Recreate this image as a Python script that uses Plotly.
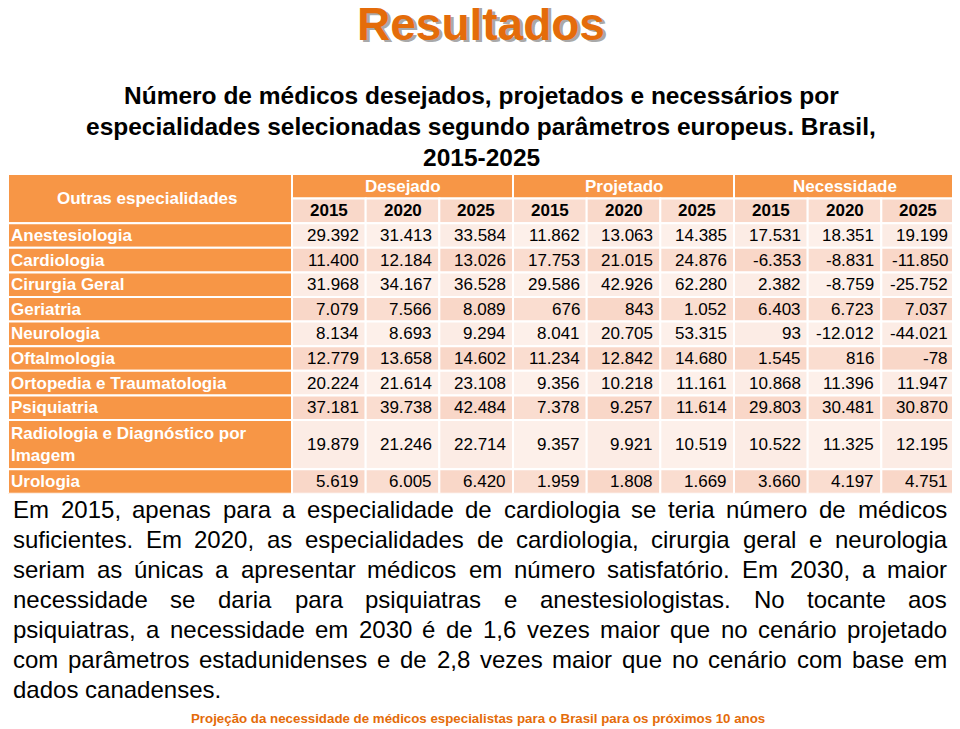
import plotly.graph_objects as go

FONT = "Liberation Sans, Arial, sans-serif"
W_PX, H_PX = 960, 729
OFF = 8  # the page body adds an 8px margin around the figure

# ---------------- data ----------------
especialidades = [
    "Anestesiologia", "Cardiologia", "Cirurgia Geral", "Geriatria", "Neurologia",
    "Oftalmologia", "Ortopedia e Traumatologia", "Psiquiatria",
    "Radiologia e Diagnóstico por<br>Imagem", "Urologia",
]
grupos = ["Desejado", "Projetado", "Necessidade"]
anos = ["2015", "2020", "2025"]
cabecalho = "Outras especialidades"

desejado = [
    [29392, 31413, 33584], [11400, 12184, 13026], [31968, 34167, 36528],
    [7079, 7566, 8089], [8134, 8693, 9294], [12779, 13658, 14602],
    [20224, 21614, 23108], [37181, 39738, 42484], [19879, 21246, 22714],
    [5619, 6005, 6420],
]
projetado = [
    [11862, 13063, 14385], [17753, 21015, 24876], [29586, 42926, 62280],
    [676, 843, 1052], [8041, 20705, 53315], [11234, 12842, 14680],
    [9356, 10218, 11161], [7378, 9257, 11614], [9357, 9921, 10519],
    [1959, 1808, 1669],
]
necessidade = [
    [17531, 18351, 19199], [-6353, -8831, -11850], [2382, -8759, -25752],
    [6403, 6723, 7037], [93, -12012, -44021], [1545, 816, -78],
    [10868, 11396, 11947], [29803, 30481, 30870], [10522, 11325, 12195],
    [3660, 4197, 4751],
]

titulo = "Resultados"
subtitulo = [
    "Número de médicos desejados, projetados e necessários por",
    "especialidades selecionadas segundo parâmetros europeus. Brasil,",
    "2015-2025",
]
texto = [
    "Em 2015, apenas para a especialidade de cardiologia se teria número de médicos",
    "suficientes. Em 2020, as especialidades de cardiologia, cirurgia geral e neurologia",
    "seriam as únicas a apresentar médicos em número satisfatório. Em 2030, a maior",
    "necessidade se daria para psiquiatras e anestesiologistas. No tocante aos",
    "psiquiatras, a necessidade em 2030 é de 1,6 vezes maior que no cenário projetado",
    "com parâmetros estadunidenses e de 2,8 vezes maior que no cenário com base em",
    "dados canadenses.",
]
rodape = "Projeção da necessidade de médicos especialistas para o Brasil para os próximos 10 anos"

# ---------------- styles ----------------
ORANGE = "#F79646"
TITLE_ORANGE = "#E46C0A"
HEAD2 = ["#F9D8C9", "#FADDD0"]
LIGHT = ["#FCECE5", "#FDF0EA"]
DARK = ["#F9D7C8", "#FADDD0"]


def fmt(v):
    return f"{v:,}".replace(",", ".")


def px_x(px):
    return (px - OFF) / W_PX


def px_y(py):
    return 1 - (py - OFF) / H_PX


# Arial / Liberation Sans regular advance widths (1/1000 em)
ARIAL_W = {" ": 278, ",": 278, ".": 278, "-": 333, "E": 667, "N": 722}
for ch in "0123456789":
    ARIAL_W[ch] = 556
for ch, w in zip("abcdefghijklmnopqrstuvwxyz",
                 [556, 556, 500, 556, 556, 278, 556, 556, 222, 222, 500, 222, 833,
                  556, 556, 556, 556, 333, 500, 278, 556, 500, 722, 500, 500, 500]):
    ARIAL_W[ch] = w
for ch in "áâãéêóôõú":
    ARIAL_W[ch] = 556
ARIAL_W["í"] = 278
ARIAL_W["ç"] = 500


def text_w(s, fs):
    return sum(ARIAL_W.get(c, 556) for c in s) * fs / 1000.0


# ---------------- table geometry (in axis units) ----------------
n_cols = len(grupos) * len(anos)
tbl_left, tbl_split, tbl_right = OFF, 292, 955
col_px = (tbl_right - tbl_split) / n_cols
label_w = (tbl_split - tbl_left) / col_px

row_h = [2 if "<br>" in e else 1 for e in especialidades]
row_y0 = []
acc = 2
for h in row_h:
    row_y0.append(acc)
    acc += h
total_rows = acc
tbl_top = 174
unit_px = 24.6
tbl_bottom = tbl_top + total_rows * unit_px

fig = go.Figure()
# invisible trace to set up the axes
fig.add_trace(go.Scatter(x=[-label_w, n_cols], y=[0, total_rows], mode="markers",
                         marker=dict(opacity=0), hoverinfo="skip", showlegend=False))

shapes = []
ann = []


def cell(x0, x1, y0, y1, color):
    shapes.append(dict(type="rect", xref="x", yref="y", x0=x0, x1=x1, y0=y0, y1=y1,
                       fillcolor=color, line=dict(color="white", width=2), layer="below"))


# header
cell(-label_w, 0, 0, 2, ORANGE)
ann.append(dict(xref="paper", yref="y", x=px_x(147), y=1, text=cabecalho, showarrow=False,
                font=dict(family=FONT, size=17, color="white", weight="bold"),
                xanchor="center", yanchor="middle"))
for g, nome in enumerate(grupos):
    cell(3 * g, 3 * g + 3, 0, 1, ORANGE)
    ann.append(dict(xref="x", yref="y", x=3 * g + 1.5, y=0.5, text=nome, showarrow=False,
                    font=dict(family=FONT, size=17, color="white", weight="bold"),
                    xanchor="center", yanchor="middle"))
    for a, ano in enumerate(anos):
        j = 3 * g + a
        cell(j, j + 1, 1, 2, HEAD2[j % 2])
        ann.append(dict(xref="x", yref="y", x=j + 0.5, y=1.5, text=ano, showarrow=False,
                        font=dict(family=FONT, size=17, color="black", weight="bold"),
                        xanchor="center", yanchor="middle"))

# body
pad = 5 / col_px
for r, nome in enumerate(especialidades):
    y0 = row_y0[r]
    y1 = y0 + row_h[r]
    ym = (y0 + y1) / 2
    cell(-label_w, 0, y0, y1, ORANGE)
    ann.append(dict(xref="paper", yref="y", x=px_x(9), y=ym, text=nome,
                    showarrow=False, align="left",
                    font=dict(family=FONT, size=17, color="white", weight="bold"),
                    xanchor="left", yanchor="middle"))
    valores = desejado[r] + projetado[r] + necessidade[r]
    band = LIGHT if r % 2 == 0 else DARK
    for j, v in enumerate(valores):
        cell(j, j + 1, y0, y1, band[j % 2])
        ann.append(dict(xref="x", yref="y", x=j + 1 - pad, y=ym, text=fmt(v),
                        showarrow=False,
                        font=dict(family=FONT, size=17, color="black"),
                        xanchor="right", yanchor="middle"))

# title with shadow
ann.append(dict(xref="paper", yref="paper", x=px_x(481), y=px_y(24), text=titulo,
                showarrow=False, xshift=2.5, yshift=-2.5,
                font=dict(family=FONT, size=46, color="rgba(60,60,60,0.45)", weight="bold"),
                xanchor="center", yanchor="middle"))
ann.append(dict(xref="paper", yref="paper", x=px_x(481), y=px_y(24), text=titulo,
                showarrow=False,
                font=dict(family=FONT, size=46, color=TITLE_ORANGE, weight="bold"),
                xanchor="center", yanchor="middle"))

# subtitle
for i, linha in enumerate(subtitulo):
    ann.append(dict(xref="paper", yref="paper", x=px_x(481), y=px_y(95 + 31 * i),
                    text=linha, showarrow=False,
                    font=dict(family=FONT, size=24.5, color="black", weight="bold"),
                    xanchor="center", yanchor="middle"))

# justified body paragraph
fs_body = 24
left_px, right_px = 12, 946
for i, linha in enumerate(texto):
    yc = px_y(509 + 30 * i)
    palavras = linha.split(" ")
    if i == len(texto) - 1:
        ann.append(dict(xref="paper", yref="paper", x=px_x(left_px), y=yc, text=linha,
                        showarrow=False, borderpad=0,
                        font=dict(family=FONT, size=fs_body, color="black"),
                        xanchor="left", yanchor="middle"))
        continue
    larguras = [text_w(p, fs_body) for p in palavras]
    gap = (right_px - left_px - sum(larguras)) / (len(palavras) - 1)
    xcur = left_px
    for p, w in zip(palavras, larguras):
        ann.append(dict(xref="paper", yref="paper", x=px_x(xcur), y=yc, text=p,
                        showarrow=False, borderpad=0,
                        font=dict(family=FONT, size=fs_body, color="black"),
                        xanchor="left", yanchor="middle"))
        xcur += w + gap

# footer
ann.append(dict(xref="paper", yref="paper", x=px_x(478), y=px_y(718), text=rodape,
                showarrow=False,
                font=dict(family=FONT, size=13.3, color=TITLE_ORANGE, weight="bold"),
                xanchor="center", yanchor="middle"))

fig.update_layout(
    width=W_PX, height=H_PX,
    margin=dict(l=0, r=0, t=0, b=0),
    paper_bgcolor="white", plot_bgcolor="white",
    showlegend=False,
    shapes=shapes, annotations=ann,
    xaxis=dict(range=[-label_w, n_cols], domain=[px_x(tbl_left), px_x(tbl_right)],
               visible=False, fixedrange=True),
    yaxis=dict(range=[total_rows, 0], domain=[px_y(tbl_bottom), px_y(tbl_top)],
               visible=False, fixedrange=True),
)

fig.write_html("out.html")
